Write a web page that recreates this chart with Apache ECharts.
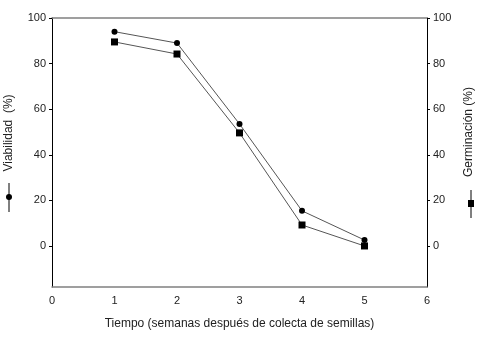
<!DOCTYPE html>
<html>
<head>
<meta charset="utf-8">
<script src="https://cdn.jsdelivr.net/npm/echarts@6/dist/echarts.min.js"></script>
<style>
  html, body { margin: 0; padding: 0; background: #fff; }
  #chart { width: 482px; height: 339px; }
</style>
</head>
<body>
<div id="chart"></div>
<script>
// semanas despues de colecta
const semanas = [1, 2, 3, 4, 5];
const viabilidad = [94, 89, 53.5, 15.4, 2.6];
const germinacion = [89.5, 84.2, 49.6, 9.2, 0];
const yTicks = [0, 20, 40, 60, 80, 100];

const chart = echarts.init(document.getElementById('chart'));

const font = 'Liberation Sans, Arial, sans-serif';
const txt = { color: '#222', fontSize: 11, fontFamily: font };

const yAxisBase = (pos) => ({
  type: 'value',
  position: pos,
  min: -18,
  max: 100,
  axisLine: { show: true, onZero: false, lineStyle: { color: '#000', width: 1 } },
  axisTick: { show: true, length: 3, customValues: yTicks, lineStyle: { color: '#000' } },
  axisLabel: { ...txt, margin: 6, customValues: yTicks },
  splitLine: { show: false }
});

chart.setOption({
  animation: false,
  grid: { left: 52, right: 55, top: 18, bottom: 52 },
  xAxis: [
    {
      type: 'value',
      min: 0,
      max: 6,
      interval: 1,
      position: 'bottom',
      name: 'Tiempo (semanas después de colecta de semillas)',
      nameLocation: 'middle',
      nameGap: 31,
      nameTextStyle: { ...txt, fontSize: 12 },
      axisLine: { show: true, onZero: false, lineStyle: { color: '#808080', width: 1.5 } },
      axisTick: { show: false },
      axisLabel: { ...txt, margin: 8 },
      splitLine: { show: false }
    },
    {
      type: 'value',
      min: 0,
      max: 6,
      position: 'top',
      axisLine: { show: true, onZero: false, lineStyle: { color: '#808080', width: 1.5 } },
      axisTick: { show: false },
      axisLabel: { show: false },
      splitLine: { show: false }
    }
  ],
  yAxis: [yAxisBase('left'), yAxisBase('right')],
  series: [
    {
      name: 'Viabilidad',
      type: 'line',
      yAxisIndex: 0,
      data: semanas.map((s, i) => [s, viabilidad[i]]),
      symbol: 'circle',
      symbolSize: 6,
      itemStyle: { color: '#000' },
      lineStyle: { color: '#555', width: 1 }
    },
    {
      name: 'Germinación',
      type: 'line',
      yAxisIndex: 1,
      data: semanas.map((s, i) => [s, germinacion[i]]),
      symbol: 'rect',
      symbolSize: 7,
      itemStyle: { color: '#000' },
      lineStyle: { color: '#555', width: 1 }
    }
  ],
  graphic: [
    {
      type: 'text',
      x: 9, y: 133, rotation: Math.PI / 2,
      style: { text: 'Viabilidad  (%)', fill: '#222', font: '12px ' + font, align: 'center', verticalAlign: 'middle' }
    },
    { type: 'line', shape: { x1: 9, y1: 183, x2: 9, y2: 212 }, style: { stroke: '#000', lineWidth: 1 } },
    { type: 'circle', shape: { cx: 9, cy: 197, r: 3 }, style: { fill: '#000' } },
    {
      type: 'text',
      x: 469, y: 132, rotation: Math.PI / 2,
      style: { text: 'Germinación (%)', fill: '#222', font: '12px ' + font, align: 'center', verticalAlign: 'middle' }
    },
    { type: 'line', shape: { x1: 471, y1: 190, x2: 471, y2: 218 }, style: { stroke: '#000', lineWidth: 1 } },
    { type: 'rect', shape: { x: 468, y: 200, width: 6, height: 7 }, style: { fill: '#000' } }
  ]
});
</script>
</body>
</html>
